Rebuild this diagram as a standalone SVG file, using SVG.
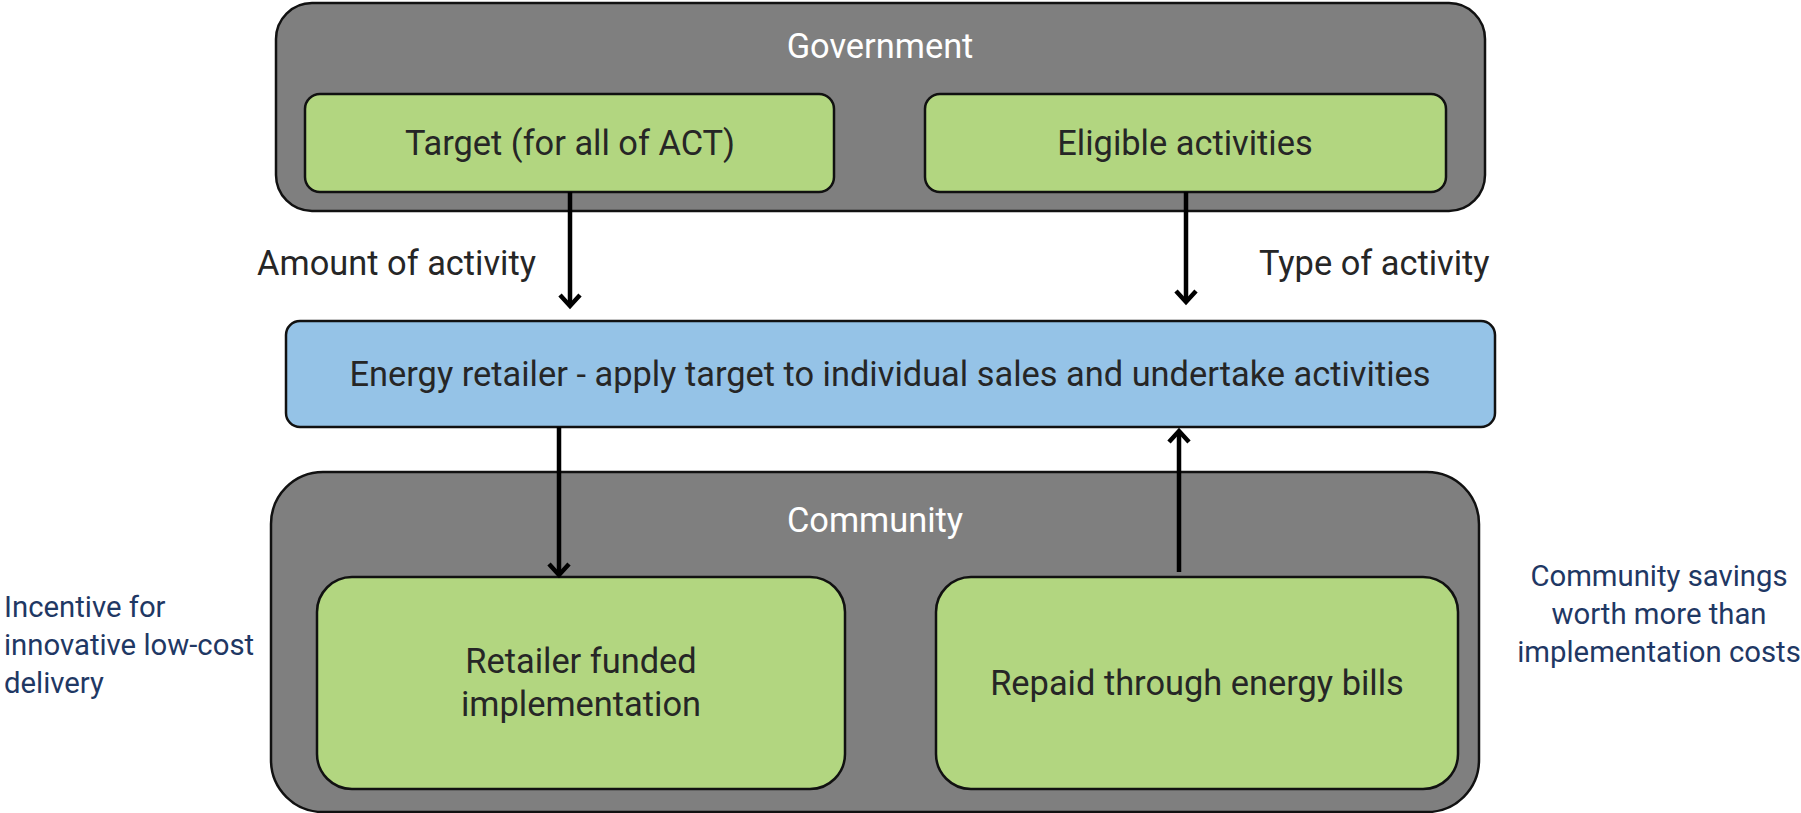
<svg xmlns="http://www.w3.org/2000/svg" width="1801" height="813" viewBox="0 0 1801 813">
<defs>
<style>
.outer{fill:#7f7f7f;stroke:#111;stroke-width:2.5}
.green{fill:#b2d680;stroke:#111;stroke-width:2.5}
.blue{fill:#95c3e7;stroke:#111;stroke-width:2.5}
text{font-family:Roboto,"Liberation Sans",sans-serif}
.t{font-size:34.4px;fill:#262626;text-anchor:middle}
.w{font-size:34.4px;fill:#ffffff;text-anchor:middle}
.lbl{font-size:34.4px;fill:#262626}
.side{font-size:29.3px;fill:#1f3864}
.conn{stroke:#000;stroke-width:4.5;fill:none;marker-end:url(#ah)}
</style>
<marker id="ah" viewBox="-16 -14 20 28" refX="0" refY="0" markerWidth="20" markerHeight="28" markerUnits="userSpaceOnUse" orient="auto">
<path d="M-11,-10 L0,0 L-11,10" fill="none" stroke="#000" stroke-width="4.5" stroke-linejoin="miter"/>
</marker>
</defs>

<g id="government">
<rect class="outer" x="276" y="3" width="1209" height="208" rx="36" ry="36"/>
<text class="w" x="880" y="58">Government</text>
</g>
<g id="target">
<rect class="green" x="305" y="94" width="529" height="98" rx="15" ry="15"/>
<text class="t" x="570" y="155">Target (for all of ACT)</text>
</g>
<g id="eligible">
<rect class="green" x="925" y="94" width="521" height="98" rx="15" ry="15"/>
<text class="t" x="1185" y="155">Eligible activities</text>
</g>
<g id="retailer">
<rect class="blue" x="286" y="321" width="1209" height="106" rx="14" ry="14"/>
<text class="t" x="890" y="386">Energy retailer - apply target to individual sales and undertake activities</text>
</g>
<g id="community">
<rect class="outer" x="271" y="472" width="1208" height="340" rx="52" ry="52"/>
<text class="w" x="875" y="532">Community</text>
</g>
<g id="retailer-funded">
<rect class="green" x="317" y="577" width="528" height="212" rx="35" ry="35"/>
<text class="t" x="581" y="673">Retailer funded</text>
<text class="t" x="581" y="716">implementation</text>
</g>
<g id="repaid">
<rect class="green" x="936" y="577" width="522" height="212" rx="35" ry="35"/>
<text class="t" x="1197" y="695">Repaid through energy bills</text>
</g>

<g id="labels">
<text class="lbl" x="536" y="275" text-anchor="end">Amount of activity</text>
<text class="lbl" x="1259" y="275">Type of activity</text>
<text class="side" x="4" y="617">Incentive for</text>
<text class="side" x="4" y="655">innovative low-cost</text>
<text class="side" x="4" y="693">delivery</text>
<text class="side" x="1659" y="586" text-anchor="middle">Community savings</text>
<text class="side" x="1659" y="624" text-anchor="middle">worth more than</text>
<text class="side" x="1659" y="662" text-anchor="middle">implementation costs</text>
</g>

<g id="connectors">
<path class="conn" d="M570,192 L570,306"/>
<path class="conn" d="M1186,192 L1186,302"/>
<path class="conn" d="M559,427 L559,575"/>
<path class="conn" d="M1179,572 L1179,431"/>
</g>
</svg>
